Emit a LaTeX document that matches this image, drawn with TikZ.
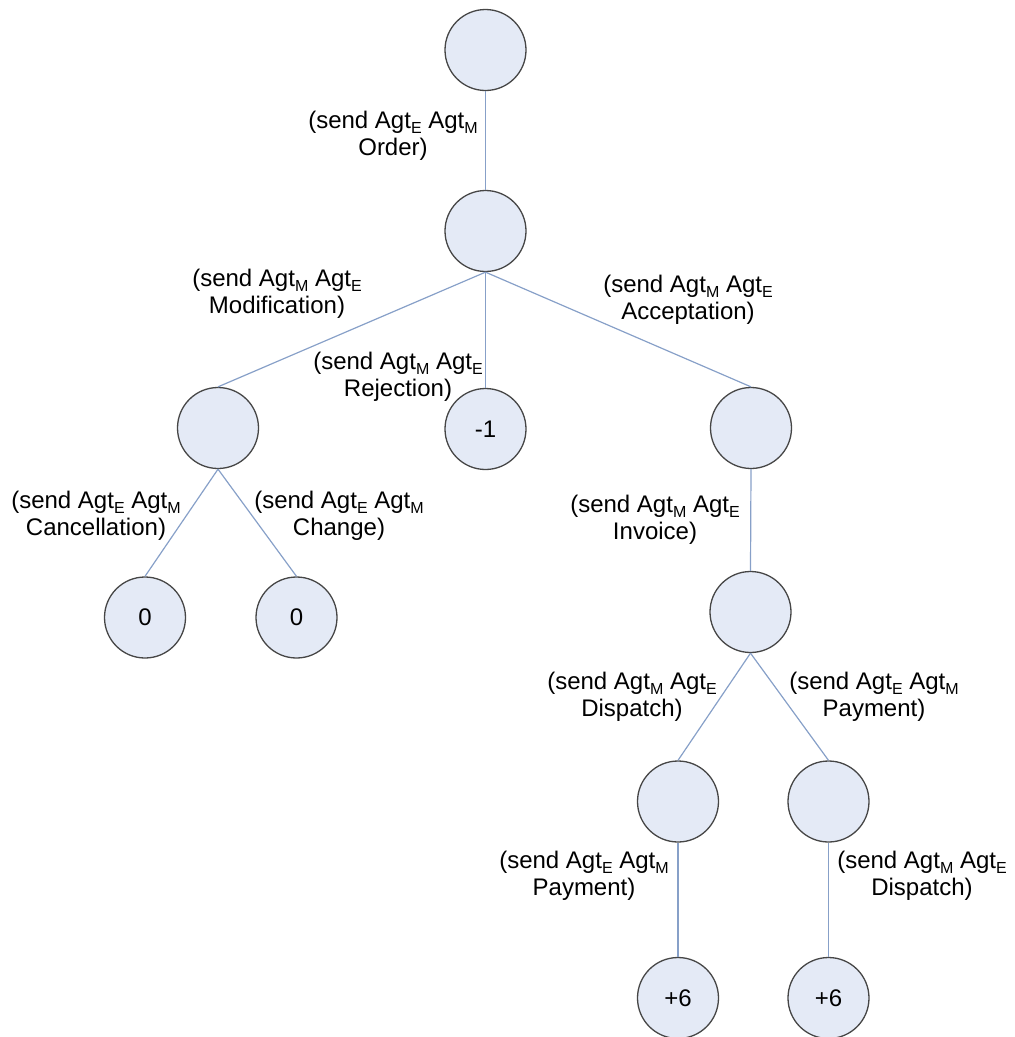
\documentclass[tikz,border=0pt]{standalone}
\usepackage{fontspec}
\setmainfont{Liberation Sans}
\newcommand\lowsub[1]{\raisebox{-0.2em}{\fontsize{16}{16}\selectfont #1}}
\definecolor{nodefill}{RGB}{228,234,246}
\definecolor{nodeline}{RGB}{70,70,70}
\definecolor{edgeblue}{RGB}{135,160,200}
\begin{document}
\begin{tikzpicture}[x=1pt,y=-1pt,
  state/.style={circle,draw=nodeline,fill=nodefill,line width=1.3pt,minimum size=81pt,inner sep=0pt,font=\fontsize{24}{27}\selectfont},
  edge/.style={draw=edgeblue,line width=1.2pt},
  lbl/.style={align=center,inner sep=0pt,font=\fontsize{24}{27}\selectfont}]
\useasboundingbox (0,0) rectangle (1015,1037);
% nodes
\node[state] (r0) at (485.5,50) {};
\node[state] (n1) at (485.5,231) {};
\node[state] (n2) at (218,428) {};
\node[state] (rej) at (485.5,429) {-1};
\node[state] (n4) at (751,428) {};
\node[state] (c1) at (145,617.5) {0};
\node[state] (c2) at (296.5,617.5) {0};
\node[state] (n5) at (750.5,612) {};
\node[state] (n6) at (678,801.5) {};
\node[state] (n7) at (828.5,801.5) {};
\node[state] (p1) at (678,998) {+6};
\node[state] (p2) at (828.5,998) {+6};
% edges
\draw[edge] (r0.south) -- (n1.north);
\draw[edge] (n1.south) -- (n2.north);
\draw[edge] (n1.south) -- (rej.north);
\draw[edge] (n1.south) -- (n4.north);
\draw[edge] (n2.south) -- (c1.north);
\draw[edge] (n2.south) -- (c2.north);
\draw[edge] (n4.south) -- (n5.north);
\draw[edge] (n5.south) -- (n6.north);
\draw[edge] (n5.south) -- (n7.north);
\draw[edge] (n6.south) -- (p1.north);
\draw[edge] (n7.south) -- (p2.north);
% labels
\node[lbl] (lOrder) at (393,136) {(send Agt\lowsub{E} Agt\lowsub{M}\\Order)};
\node[lbl] (lMod) at (277,294) {(send Agt\lowsub{M} Agt\lowsub{E}\\Modification)};
\node[lbl] (lRej) at (398,377) {(send Agt\lowsub{M} Agt\lowsub{E}\\Rejection)};
\node[lbl] (lAcc) at (688,300) {(send Agt\lowsub{M} Agt\lowsub{E}\\Acceptation)};
\node[lbl] (lCan) at (96,516) {(send Agt\lowsub{E} Agt\lowsub{M}\\Cancellation)};
\node[lbl] (lChg) at (339,516) {(send Agt\lowsub{E} Agt\lowsub{M}\\Change)};
\node[lbl] (lInv) at (655,520) {(send Agt\lowsub{M} Agt\lowsub{E}\\Invoice)};
\node[lbl] (lDis) at (632,697) {(send Agt\lowsub{M} Agt\lowsub{E}\\Dispatch)};
\node[lbl] (lPay) at (874,697) {(send Agt\lowsub{E} Agt\lowsub{M}\\Payment)};
\node[lbl] (lPay2) at (584,876) {(send Agt\lowsub{E} Agt\lowsub{M}\\Payment)};
\node[lbl] (lDis2) at (922,876) {(send Agt\lowsub{M} Agt\lowsub{E}\\Dispatch)};
\end{tikzpicture}
\end{document}
